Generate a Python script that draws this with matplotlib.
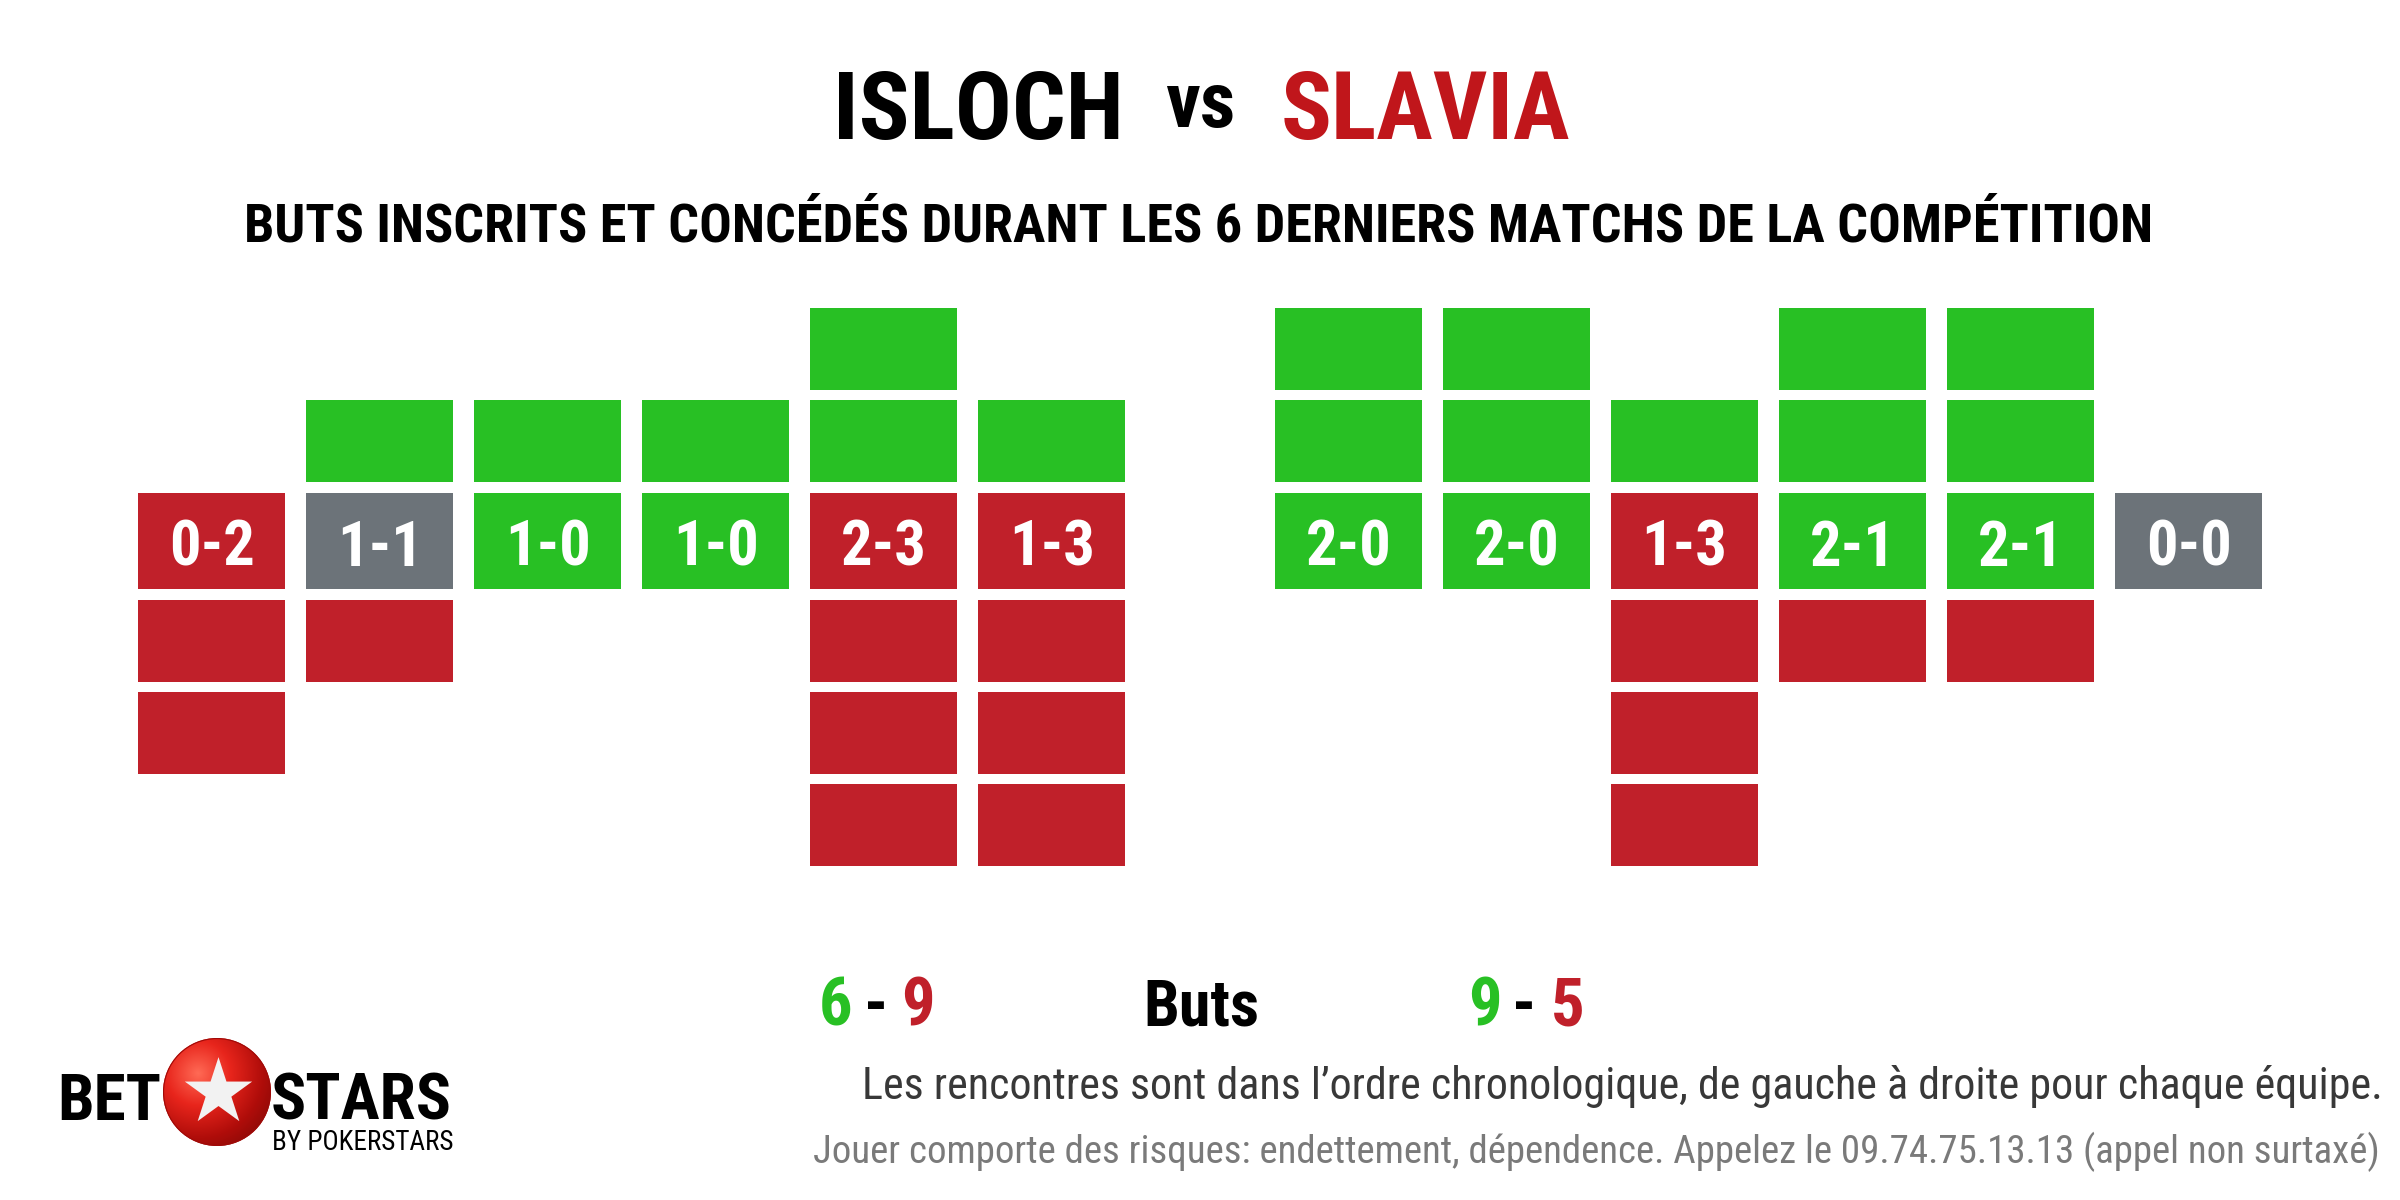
import numpy as np
import matplotlib
matplotlib.use("Agg")
import matplotlib.pyplot as plt
from matplotlib import font_manager as fm
from matplotlib.patches import Circle

# ---------------- data ----------------
team_home = "ISLOCH"
team_away = "SLAVIA"
isloch_for = [0, 1, 1, 1, 2, 1]
isloch_against = [2, 1, 0, 0, 3, 3]
slavia_for = [2, 2, 1, 2, 2, 0]
slavia_against = [0, 0, 3, 1, 1, 0]
subtitle = "BUTS INSCRITS ET CONCÉDÉS DURANT LES 6 DERNIERS MATCHS DE LA COMPÉTITION"
note1 = "Les rencontres sont dans l’ordre chronologique, de gauche à droite pour chaque équipe."
note2 = "Jouer comporte des risques: endettement, dépendence. Appelez le 09.74.75.13.13 (appel non surtaxé)"

GREEN = "#28c024"
RED = "#c0202a"
GRAY = "#6c7379"
TITLE_RED = "#c0161b"

names = {f.name for f in fm.fontManager.ttflist}
COND = next((n for n in ["Liberation Sans Narrow", "Roboto Condensed", "Open Sans Condensed"] if n in names), "DejaVu Sans")
STRETCH = "condensed"

W, H = 2400, 1200
fig = plt.figure(figsize=(24, 12), dpi=100)
fig.patch.set_facecolor("white")

def fx(px):
    return px / W

def fy(py):
    return 1 - py / H

def ctext(x, y, s, **kw):
    kw.setdefault("family", COND)
    kw.setdefault("fontstretch", STRETCH)
    fig.text(fx(x), fy(y), s, **kw)

# ---------------- blocks ----------------
UNIT = 92.3
MID_Y = 541
AX_H = 7 * UNIT
PITCH = 168.05

def draw_team(left_px, gf, ga):
    ax = fig.add_axes([fx(left_px), fy(MID_Y + 4 * UNIT), 6 * PITCH / W, AX_H / H])
    ax.set_xlim(-0.5, 5.5)
    ax.set_ylim(-4, 3)
    ax.axis("off")
    x = np.arange(len(gf))
    w = 147 / PITCH
    bh = 82 / UNIT
    for k in range(1, max(gf) + 1):
        idx = [i for i in x if gf[i] >= k]
        ax.bar(idx, bh, bottom=1.08 + (k - 1) - bh / 2, width=w, color=GREEN, linewidth=0)
    for k in range(1, max(ga) + 1):
        idx = [i for i in x if ga[i] >= k]
        ax.bar(idx, bh, bottom=-(1.08 + (k - 1)) - bh / 2, width=w, color=RED, linewidth=0)
    mid_col = [GREEN if a > b else RED if a < b else GRAY for a, b in zip(gf, ga)]
    ax.bar(x, 1.04, bottom=-0.52, width=w, color=mid_col, linewidth=0)
    for i, (a, b) in enumerate(zip(gf, ga)):
        ax.text(i, -0.27, f"{a}-{b}", ha="center", va="baseline", color="white",
                fontsize=45, fontweight="bold", family=COND, fontstretch=STRETCH)
    return ax

draw_team(127.7, isloch_for, isloch_against)
draw_team(1264.5, slavia_for, slavia_against)

# ---------------- titles ----------------
ctext(978, 139, team_home, ha="center", va="baseline", fontsize=68, fontweight="bold", color="black")
ctext(1200, 127, "vs", ha="center", va="baseline", fontsize=56, fontweight="bold", color="black")
ctext(1425, 139, team_away, ha="center", va="baseline", fontsize=68, fontweight="bold", color=TITLE_RED)
ctext(1199, 242, subtitle, ha="center", va="baseline", fontsize=39, fontweight="bold", color="black")

# ---------------- totals ----------------
tot_home = (sum(isloch_for), sum(isloch_against))
tot_away = (sum(slavia_for), sum(slavia_against))
BY = 1026
ctext(836, BY, str(tot_home[0]), ha="center", va="baseline", fontsize=48, fontweight="bold", color=GREEN)
ctext(876, BY, "-", ha="center", va="baseline", fontsize=48, fontweight="bold", color="black")
ctext(917.5, BY, str(tot_home[1]), ha="center", va="baseline", fontsize=48, fontweight="bold", color=RED)
ctext(1201, BY, "Buts", ha="center", va="baseline", fontsize=46, fontweight="bold", color="black")
ctext(1485, BY, str(tot_away[0]), ha="center", va="baseline", fontsize=48, fontweight="bold", color=GREEN)
ctext(1524, BY, "-", ha="center", va="baseline", fontsize=48, fontweight="bold", color="black")
ctext(1567.5, BY, str(tot_away[1]), ha="center", va="baseline", fontsize=48, fontweight="bold", color=RED)

# ---------------- notes ----------------
ctext(2383, 1099, note1, ha="right", va="baseline", fontsize=31.7, color="#383838")
ctext(2380, 1163, note2, ha="right", va="baseline", fontsize=28, color="#7a7a7a")

# ---------------- logo ----------------
ctext(161, 1120, "BET", ha="right", va="baseline", fontsize=47, fontweight="bold", color="black")
ctext(271, 1120, "STARS", ha="left", va="baseline", fontsize=47, fontweight="bold", color="black")
ctext(272, 1150, "BY POKERSTARS", ha="left", va="baseline", fontsize=19.5, color="black")

R = 54
lax = fig.add_axes([fx(217 - R), fy(1092 + R), 2 * R / W, 2 * R / H])
lax.set_xlim(-1, 1)
lax.set_ylim(-1, 1)
lax.axis("off")
gx, gy = np.meshgrid(np.linspace(-1, 1, 200), np.linspace(-1, 1, 200))
d = np.sqrt((gx + 0.35) ** 2 + (gy - 0.35) ** 2)
img = lax.imshow(d, extent=(-1, 1, -1, 1), origin="lower",
                 cmap=matplotlib.colors.LinearSegmentedColormap.from_list("ball", ["#ff6a55", "#e8251c", "#b00d0a", "#7a0805"]),
                 vmin=0, vmax=1.8)
clip = Circle((0, 0), 1, transform=lax.transData)
img.set_clip_path(clip)
lax.add_patch(Circle((0, 0), 0.99, fill=False, edgecolor="#a00a08", linewidth=0.8))
lax.scatter([0.02], [0.0], marker="*", s=2600, color="#f2f2f2", linewidths=0, zorder=5)

fig.savefig("out.png", dpi=100, facecolor="white")
